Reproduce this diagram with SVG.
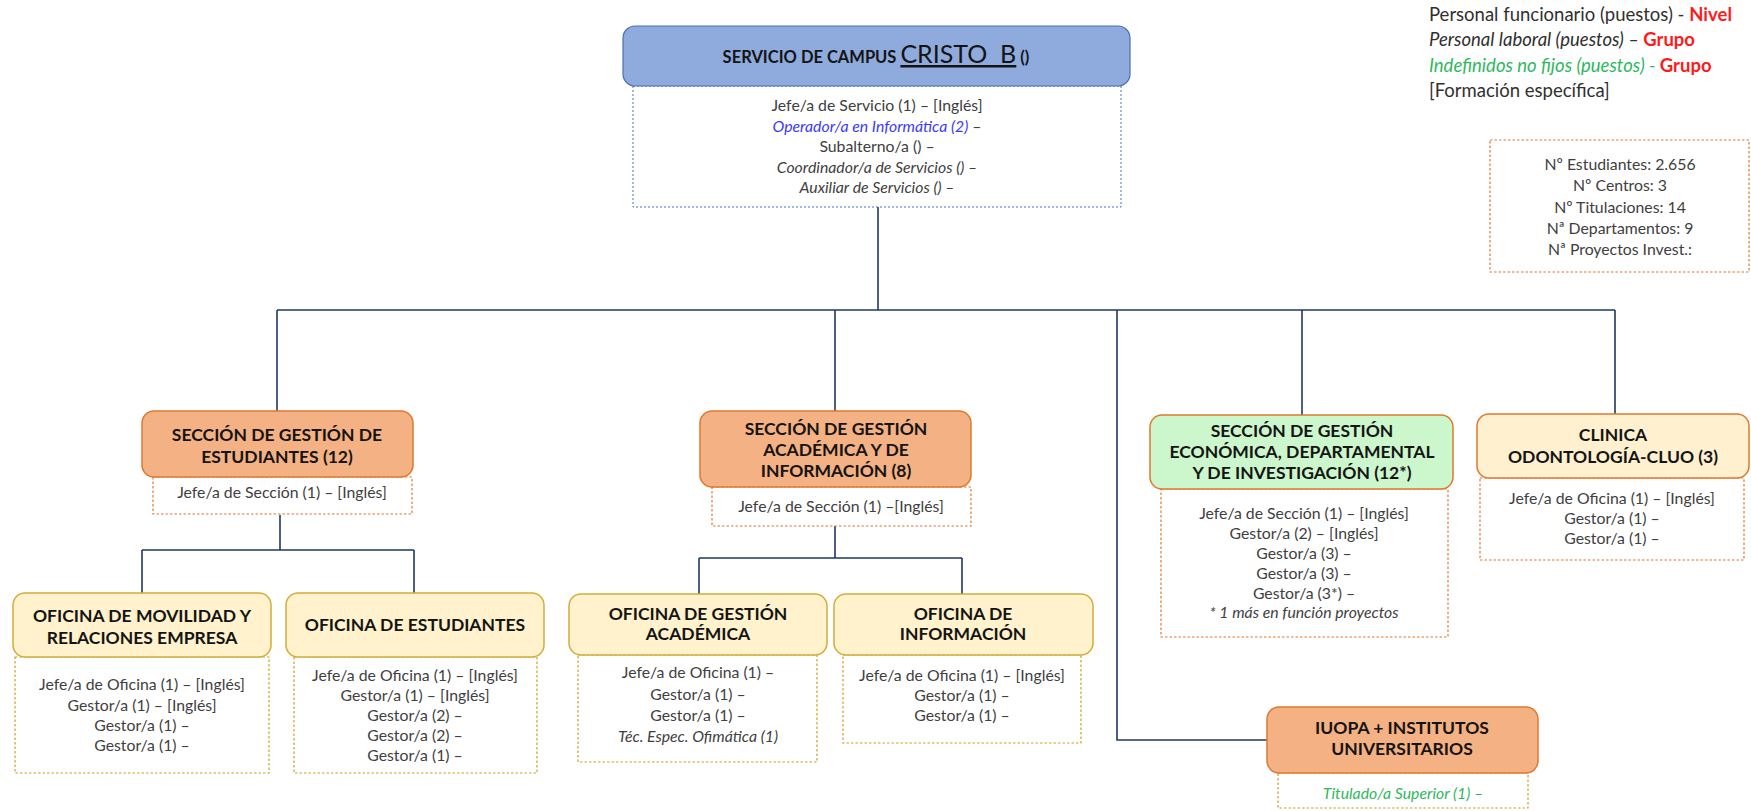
<svg xmlns="http://www.w3.org/2000/svg" width="1751" height="811" viewBox="0 0 1751 811">
  <style>
    text { font-family: Lato, "Open Sans", "Liberation Sans", sans-serif; }
    .t { font-weight: 700; font-size: 17.5px; fill: #141414; text-anchor: middle; }
    .b { font-size: 15.8px; fill: #404040; text-anchor: middle; }
    .i { font-style: italic; }
    .lg { font-size: 18.5px; fill: #303030; }
    .red { fill: #ff1a1a; font-weight: 700; font-style: normal; }
    .grn { fill: #2fb85e; }
    .blu { fill: #3a3aff; }
    .serv { fill: #8faadc; stroke: #4a6fb0; stroke-width: 1.2; }
    .sec { fill: #f4b183; stroke: #e0782f; stroke-width: 1.5; }
    .eco { fill: #ccf7cc; stroke: #e0782f; stroke-width: 1.5; }
    .cli { fill: #fff0d0; stroke: #e0782f; stroke-width: 1.5; }
    .ofi { fill: #fff2cc; stroke: #d4ac3a; stroke-width: 1.5; }
    .dblue { fill: #ffffff; stroke: #4472c4; stroke-width: 1; stroke-dasharray: 2 2; }
    .dora { fill: #ffffff; stroke: #e0782f; stroke-width: 1.2; stroke-dasharray: 2.5 2; }
    .dgold { fill: #ffffff; stroke: #c9a227; stroke-width: 1.2; stroke-dasharray: 2.5 2; }
    .wire { fill: none; stroke: #203864; stroke-width: 1.6; }
  </style>

  <!-- connectors -->
  <g id="connectors" class="wire">
    <path d="M878 207 V310"/>
    <path d="M277 310 H1615"/>
    <path d="M277 310 V411"/>
    <path d="M835 310 V411"/>
    <path d="M1117 310 V740 H1267"/>
    <path d="M1302 310 V415"/>
    <path d="M1615 310 V414"/>
    <path d="M280 515 V550 M142 550 H414 M142 550 V593 M414 550 V593"/>
    <path d="M835 526 V558 M699 558 H962 M699 558 V594 M962 558 V594"/>
  </g>

  <!-- legend -->
  <g id="legend">
    <text class="lg" x="1429" y="21">Personal funcionario (puestos) - <tspan class="red">Nivel</tspan></text>
    <text class="lg i" x="1429" y="46">Personal laboral (puestos) – <tspan class="red">Grupo</tspan></text>
    <text class="lg i" x="1429" y="72"><tspan class="grn">Indefinidos no fijos (puestos) - </tspan><tspan class="red">Grupo</tspan></text>
    <text class="lg" x="1429" y="97">[Formación específica]</text>
  </g>

  <!-- campus figures -->
  <g id="datos">
    <rect class="dora" x="1490" y="140" width="259" height="132"/>
    <text class="b" x="1620" y="170">Nº Estudiantes: 2.656</text>
    <text class="b" x="1620" y="191">Nº Centros: 3</text>
    <text class="b" x="1620" y="213">Nº Titulaciones: 14</text>
    <text class="b" x="1620" y="234">Nª Departamentos: 9</text>
    <text class="b" x="1620" y="255">Nª Proyectos Invest.:</text>
  </g>

  <!-- service head -->
  <g id="servicio">
    <rect class="dblue" x="633" y="86" width="488" height="121"/>
    <rect class="serv" x="623" y="26" width="507" height="60" rx="12"/>
    <text x="876" y="63" text-anchor="middle" fill="#141414" xml:space="preserve"><tspan font-weight="700" font-size="16.5">SERVICIO DE CAMPUS </tspan><tspan font-size="25" text-decoration="underline">CRISTO  B</tspan><tspan font-weight="700" font-size="16.5"> ()</tspan></text>
    <text class="b" x="877" y="111">Jefe/a de Servicio (1) – [Inglés]</text>
    <text class="b" x="877" y="132"><tspan class="i blu">Operador/a en Informática  (2)</tspan> –</text>
    <text class="b" x="877" y="152">Subalterno/a () –</text>
    <text class="b i" x="877" y="173">Coordinador/a de Servicios () –</text>
    <text class="b i" x="877" y="193">Auxiliar de Servicios () –</text>
  </g>

  <!-- section: students -->
  <g id="sec-estudiantes">
    <rect class="dora" x="153" y="477" width="259" height="37"/>
    <rect class="sec" x="142" y="411" width="271" height="66" rx="12"/>
    <text class="t" x="277" y="441">SECCIÓN DE GESTIÓN DE</text>
    <text class="t" x="277" y="463">ESTUDIANTES (12)</text>
    <text class="b" x="282" y="498">Jefe/a de Sección (1) – [Inglés]</text>
  </g>

  <!-- section: academic -->
  <g id="sec-academica">
    <rect class="dora" x="712" y="487" width="259" height="39"/>
    <rect class="sec" x="700" y="411" width="271" height="76" rx="12"/>
    <text class="t" x="836" y="435">SECCIÓN DE GESTIÓN</text>
    <text class="t" x="836" y="456">ACADÉMICA Y DE</text>
    <text class="t" x="836" y="477">INFORMACIÓN (8)</text>
    <text class="b" x="841" y="512">Jefe/a de Sección (1) –[Inglés]</text>
  </g>

  <!-- section: economic -->
  <g id="sec-economica">
    <rect class="dora" x="1161" y="489" width="287" height="148"/>
    <rect class="eco" x="1150" y="415" width="303" height="74" rx="12"/>
    <text class="t" x="1302" y="437">SECCIÓN DE GESTIÓN</text>
    <text class="t" x="1302" y="458">ECONÓMICA, DEPARTAMENTAL</text>
    <text class="t" x="1302" y="479">Y DE INVESTIGACIÓN (12*)</text>
    <text class="b" x="1304" y="519">Jefe/a de Sección (1) – [Inglés]</text>
    <text class="b" x="1304" y="539">Gestor/a (2) – [Inglés]</text>
    <text class="b" x="1304" y="559">Gestor/a (3) –</text>
    <text class="b" x="1304" y="579">Gestor/a (3) –</text>
    <text class="b" x="1304" y="599">Gestor/a (3*) –</text>
    <text class="b i" x="1304" y="618">* 1 más en función proyectos</text>
  </g>

  <!-- dental clinic -->
  <g id="clinica">
    <rect class="dora" x="1480" y="478" width="264" height="82"/>
    <rect class="cli" x="1477" y="414" width="272" height="64" rx="12"/>
    <text class="t" x="1613" y="441">CLINICA</text>
    <text class="t" x="1613" y="463">ODONTOLOGÍA-CLUO (3)</text>
    <text class="b" x="1612" y="504">Jefe/a de Oficina (1) – [Inglés]</text>
    <text class="b" x="1612" y="524">Gestor/a (1) –</text>
    <text class="b" x="1612" y="544">Gestor/a (1) –</text>
  </g>

  <!-- offices -->
  <g id="ofi-movilidad">
    <rect class="dgold" x="15" y="657" width="254" height="116"/>
    <rect class="ofi" x="13" y="593" width="258" height="64" rx="12"/>
    <text class="t" x="142" y="622">OFICINA DE MOVILIDAD Y</text>
    <text class="t" x="142" y="644">RELACIONES EMPRESA</text>
    <text class="b" x="142" y="690">Jefe/a de Oficina (1) – [Inglés]</text>
    <text class="b" x="142" y="711">Gestor/a (1) – [Inglés]</text>
    <text class="b" x="142" y="731">Gestor/a (1) –</text>
    <text class="b" x="142" y="751">Gestor/a (1) –</text>
  </g>

  <g id="ofi-estudiantes">
    <rect class="dgold" x="294" y="657" width="243" height="116"/>
    <rect class="ofi" x="286" y="593" width="258" height="64" rx="12"/>
    <text class="t" x="415" y="631">OFICINA DE ESTUDIANTES</text>
    <text class="b" x="415" y="681">Jefe/a de Oficina (1) – [Inglés]</text>
    <text class="b" x="415" y="701">Gestor/a (1) – [Inglés]</text>
    <text class="b" x="415" y="721">Gestor/a (2) –</text>
    <text class="b" x="415" y="741">Gestor/a (2) –</text>
    <text class="b" x="415" y="761">Gestor/a (1) –</text>
  </g>

  <g id="ofi-academica">
    <rect class="dgold" x="578" y="655" width="239" height="107"/>
    <rect class="ofi" x="569" y="594" width="258" height="61" rx="12"/>
    <text class="t" x="698" y="620">OFICINA DE GESTIÓN</text>
    <text class="t" x="698" y="640">ACADÉMICA</text>
    <text class="b" x="698" y="678">Jefe/a de Oficina (1) –</text>
    <text class="b" x="698" y="700">Gestor/a (1) –</text>
    <text class="b" x="698" y="721">Gestor/a (1) –</text>
    <text class="b i" x="698" y="742">Téc.  Espec. Ofimática (1)</text>
  </g>

  <g id="ofi-informacion">
    <rect class="dgold" x="843" y="655" width="238" height="88"/>
    <rect class="ofi" x="834" y="594" width="259" height="61" rx="12"/>
    <text class="t" x="963" y="620">OFICINA DE</text>
    <text class="t" x="963" y="640">INFORMACIÓN</text>
    <text class="b" x="962" y="681">Jefe/a de Oficina (1) – [Inglés]</text>
    <text class="b" x="962" y="701">Gestor/a (1) –</text>
    <text class="b" x="962" y="721">Gestor/a (1) –</text>
  </g>

  <!-- institutes -->
  <g id="iuopa">
    <rect class="dgold" x="1278" y="773" width="250" height="35"/>
    <rect class="sec" x="1267" y="707" width="271" height="66" rx="12"/>
    <text class="t" x="1402" y="734">IUOPA + INSTITUTOS</text>
    <text class="t" x="1402" y="755">UNIVERSITARIOS</text>
    <text class="b i grn" x="1403" y="799">Titulado/a Superior (1) –</text>
  </g>
</svg>
